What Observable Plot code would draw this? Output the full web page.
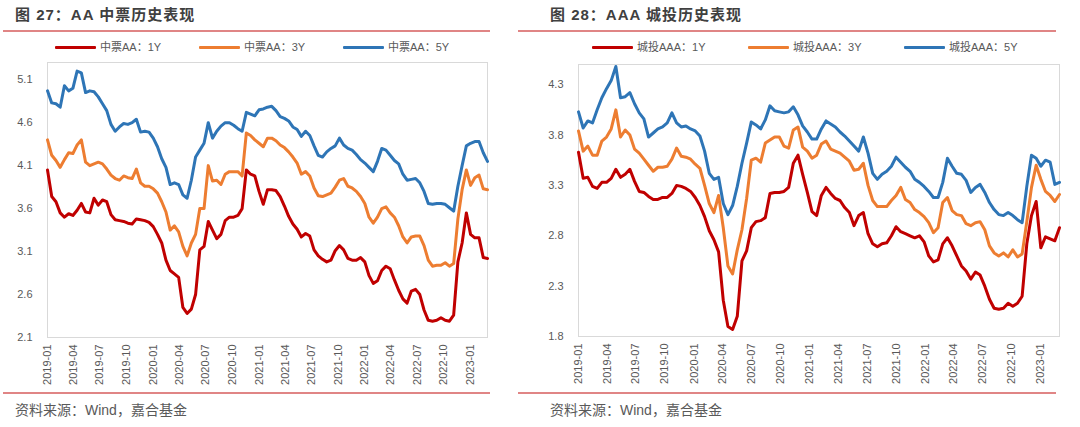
<!DOCTYPE html>
<html><head><meta charset="utf-8">
<script src="https://cdn.jsdelivr.net/npm/d3@7"></script>
<script src="https://cdn.jsdelivr.net/npm/@observablehq/plot@0.6"></script>
<style>
body{margin:0;width:1080px;height:427px;background:#fff;position:relative;overflow:hidden;font-family:"Liberation Sans",Arial,"Noto Sans CJK SC",sans-serif;}
.abs{position:absolute;white-space:nowrap}
.title{font-size:15px;font-weight:bold;color:#404040;letter-spacing:1px;font-family:"Liberation Sans",Arial,"Noto Sans CJK SC",sans-serif;line-height:18px}
.sep{height:2px;background:#E08585}
.leg{font-size:11px;color:#595959;line-height:14px;font-family:"Liberation Sans",Arial,"Noto Sans CJK SC",sans-serif}
.sw{height:3px;width:41px;border-radius:1px}
.src{font-size:14px;color:#595959;letter-spacing:0px;line-height:16px;font-family:"Liberation Sans",Arial,"Noto Sans CJK SC",sans-serif}
</style></head><body>
<script>
// ---------- data ----------
const xTickLabels = ["2019-01","2019-04","2019-07","2019-10","2020-01","2020-04","2020-07","2020-10","2021-01","2021-04","2021-07","2021-10","2022-01","2022-04","2022-07","2022-10","2023-01"];
const firstDate = "2019-01-01";
const lastDate = "2023-03-01";

// Left chart: AA 中票 (readings evenly spaced from firstDate to lastDate)
const aaNames = ["中票AA：1Y","中票AA：3Y","中票AA：5Y"];
const aa1Y = [4.05,3.74,3.68,3.55,3.5,3.54,3.52,3.58,3.66,3.56,3.55,3.72,3.64,3.7,3.68,3.53,3.47,3.46,3.45,3.43,3.42,3.48,3.47,3.46,3.44,3.39,3.3,3.2,3.0,2.88,2.84,2.8,2.45,2.38,2.43,2.6,3.12,3.16,3.45,3.35,3.25,3.3,3.46,3.5,3.5,3.52,3.6,4.05,4.0,3.98,3.8,3.65,3.82,
  3.82,3.81,3.74,3.63,3.51,3.42,3.36,3.27,3.31,3.28,3.12,3.05,3.01,2.98,3.0,3.11,3.17,3.12,3.02,3.0,3.0,3.03,2.98,2.82,2.73,2.76,2.88,2.93,2.9,2.77,2.65,2.55,2.5,2.64,2.66,2.6,2.42,2.3,2.29,2.3,2.33,2.3,2.29,2.36,2.98,3.2,3.55,3.3,3.26,3.26,3.03,3.02];
const aa3Y = [4.40,4.22,4.16,4.08,4.17,4.25,4.24,4.34,4.40,4.14,4.1,4.12,4.14,4.12,4.06,3.99,3.95,3.93,3.98,3.96,3.95,4.06,3.9,3.86,3.86,3.83,3.78,3.68,3.56,3.35,3.4,3.33,3.16,3.05,3.2,3.3,3.6,3.6,4.1,3.92,3.93,3.88,4.0,4.03,4.03,4.03,3.98,4.48,4.45,4.4,4.36,4.32,4.42,
  4.42,4.39,4.34,4.31,4.26,4.2,4.13,4.0,4.03,3.98,3.84,3.75,3.74,3.76,3.78,3.85,3.93,3.95,3.86,3.84,3.8,3.74,3.66,3.5,3.43,3.5,3.6,3.62,3.55,3.5,3.4,3.27,3.2,3.27,3.28,3.28,3.17,3.0,2.93,2.94,2.94,2.97,2.93,2.96,3.48,3.82,4.05,3.87,3.96,3.99,3.83,3.82];
const aa5Y = [4.97,4.83,4.82,4.78,5.03,4.97,5.0,5.2,5.18,4.95,4.97,4.96,4.9,4.82,4.74,4.58,4.5,4.55,4.59,4.58,4.6,4.64,4.49,4.5,4.49,4.42,4.32,4.18,4.08,3.88,3.9,3.88,3.76,3.72,3.93,4.2,4.28,4.36,4.6,4.42,4.5,4.56,4.6,4.6,4.57,4.53,4.5,4.72,4.7,4.68,4.75,4.76,4.78,
  4.79,4.74,4.67,4.65,4.62,4.55,4.52,4.44,4.5,4.45,4.33,4.22,4.2,4.26,4.3,4.33,4.42,4.34,4.3,4.28,4.23,4.17,4.13,4.08,4.03,4.15,4.3,4.28,4.22,4.16,4.12,4.0,3.93,3.94,3.95,3.9,3.8,3.66,3.65,3.66,3.66,3.65,3.61,3.57,3.86,4.1,4.33,4.36,4.38,4.38,4.25,4.15];
const aaYTicks = [2.1,2.6,3.1,3.6,4.1,4.6,5.1];

// Right chart: AAA 城投
const aaaNames = ["城投AAA：1Y","城投AAA：3Y","城投AAA：5Y"];
const aaa1Y = [3.63,3.37,3.38,3.29,3.27,3.33,3.33,3.37,3.46,3.38,3.41,3.46,3.34,3.24,3.23,3.19,3.16,3.16,3.18,3.18,3.22,3.3,3.29,3.27,3.24,3.18,3.1,2.99,2.85,2.76,2.64,2.16,1.9,1.87,2.0,2.55,2.65,2.88,2.94,2.95,2.98,3.22,3.23,3.23,3.24,3.28,3.52,3.6,3.41,3.23,3.04,
  3.0,3.2,3.28,3.22,3.17,3.15,3.08,3.03,2.9,3.0,3.03,2.82,2.72,2.69,2.72,2.73,2.8,2.89,2.84,2.82,2.8,2.78,2.8,2.74,2.6,2.54,2.56,2.72,2.78,2.7,2.6,2.5,2.45,2.37,2.44,2.41,2.3,2.17,2.08,2.07,2.08,2.13,2.1,2.13,2.2,2.72,3.0,3.14,2.68,2.79,2.77,2.75,2.88];
const aaa3Y = [3.84,3.64,3.69,3.6,3.6,3.74,3.78,3.86,4.05,3.78,3.85,3.8,3.66,3.62,3.56,3.5,3.44,3.48,3.48,3.49,3.56,3.67,3.59,3.58,3.56,3.51,3.47,3.3,3.12,3.03,3.2,2.88,2.5,2.42,2.66,2.86,3.17,3.55,3.57,3.53,3.72,3.75,3.78,3.78,3.69,3.67,3.85,3.88,3.68,3.64,3.57,
  3.6,3.71,3.74,3.66,3.64,3.62,3.58,3.54,3.45,3.46,3.52,3.3,3.15,3.09,3.09,3.09,3.15,3.2,3.28,3.16,3.13,3.06,3.03,2.99,2.93,2.83,2.88,3.13,3.18,3.05,3.01,3.0,2.92,2.9,2.93,2.94,2.86,2.7,2.63,2.6,2.63,2.59,2.66,2.59,2.62,2.94,3.28,3.5,3.36,3.24,3.2,3.14,3.21];
const aaa5Y = [4.03,3.87,3.94,3.92,4.05,4.17,4.26,4.34,4.48,4.17,4.18,4.22,4.11,4.02,3.96,3.78,3.82,3.86,3.88,3.92,4.02,3.92,3.88,3.89,3.86,3.84,3.79,3.64,3.42,3.36,3.38,3.12,3.01,3.1,3.29,3.52,3.72,3.93,3.9,3.86,3.95,4.09,4.04,4.03,4.02,4.03,4.08,4.0,3.89,3.83,3.76,
  3.76,3.86,3.94,3.91,3.88,3.83,3.79,3.74,3.69,3.64,3.78,3.62,3.42,3.36,3.41,3.44,3.49,3.58,3.53,3.48,3.44,3.36,3.33,3.29,3.24,3.18,3.18,3.33,3.57,3.49,3.42,3.41,3.35,3.23,3.28,3.31,3.23,3.13,3.06,3.01,3.0,3.03,3.0,2.96,2.93,3.29,3.6,3.57,3.49,3.55,3.53,3.31,3.33];
const aaaYTicks = [1.8,2.3,2.8,3.3,3.8,4.3];

const seriesColors = ["#C00000","#ED7D31","#2E75B6"];

// ---------- helpers ----------
const t0 = new Date(firstDate + "T00:00:00Z");
const t1 = new Date(lastDate + "T00:00:00Z");
const sampleDates = n => d3.range(n).map(k => new Date(+t0 + k * (t1 - t0) / (n - 1)));
const parseYM = d3.utcParse("%Y-%m");
const xTicks = xTickLabels.map(parseYM);

function rowsFor(names, arrays) {
  const rows = [];
  names.forEach((nm, i) => {
    const ds = sampleDates(arrays[i].length);
    arrays[i].forEach((v, k) => rows.push({date: ds[k], value: v, series: nm}));
  });
  return rows;
}

function addDiv(cls, text, style) {
  const d = document.createElement("div");
  d.className = "abs " + cls;
  if (text) d.textContent = text;
  Object.assign(d.style, style);
  document.body.appendChild(d);
  return d;
}

function panel(cfg) {
  addDiv("title", cfg.title, {left: cfg.titleX + "px", top: "6px"});
  addDiv("sep", "", {left: cfg.sepL + "px", width: (cfg.sepR - cfg.sepL) + "px", top: "30px"});
  addDiv("sep", "", {left: cfg.sepL + "px", width: (cfg.sepR - cfg.sepL) + "px", top: "392px"});
  addDiv("src", "资料来源：Wind，嘉合基金", {left: cfg.titleX + "px", top: "402px"});
  cfg.names.forEach((nm, i) => {
    addDiv("sw", "", {left: cfg.legX[i] + "px", top: "46px", background: seriesColors[i]});
    addDiv("leg", nm, {left: (cfg.legX[i] + 45) + "px", top: "40px"});
  });
  const rows = rowsFor(cfg.names, cfg.arrays);
  const chart = Plot.plot({
    width: 540, height: 345,
    marginLeft: cfg.mL, marginRight: cfg.mR, marginTop: cfg.mT, marginBottom: cfg.mB,
    style: {fontFamily: "Liberation Sans, Arial, sans-serif", fontSize: "11px", color: "#595959", background: "transparent", overflow: "visible"},
    x: {type: "utc", domain: [t0, t1], ticks: xTicks, tickFormat: d3.utcFormat("%Y-%m"), tickRotate: -90, tickSize: 0, tickPadding: 7, label: null},
    y: {domain: cfg.yDomain, ticks: cfg.yTicks, tickFormat: d => d.toFixed(1), tickSize: 0, tickPadding: 15, label: null},
    color: {domain: cfg.names, range: seriesColors},
    marks: [
      Plot.frame({stroke: "#D9D9D9"}),
      Plot.line(rows, {x: "date", y: "value", z: "series", stroke: "series", strokeWidth: 3, strokeLinejoin: "round"})
    ]
  });
  chart.style.position = "absolute";
  chart.style.left = cfg.left + "px";
  chart.style.top = "55px";
  document.body.appendChild(chart);
}

panel({
  title: "图 27：AA 中票历史表现", titleX: 15, sepL: 3, sepR: 490, left: 0,
  names: aaNames, arrays: [aa1Y, aa3Y, aa5Y], legX: [55, 199, 343],
  yDomain: [2.1, 5.3], yTicks: aaYTicks, mL: 47, mR: 53, mT: 7, mB: 63
});
panel({
  title: "图 28：AAA 城投历史表现", titleX: 550, sepL: 518, sepR: 1056, left: 540,
  names: aaaNames, arrays: [aaa1Y, aaa3Y, aaa5Y], legX: [592, 748, 904],
  yDomain: [1.8, 4.5], yTicks: aaaYTicks, mL: 38, mR: 21, mT: 9, mB: 64
});
</script>
</body></html>
